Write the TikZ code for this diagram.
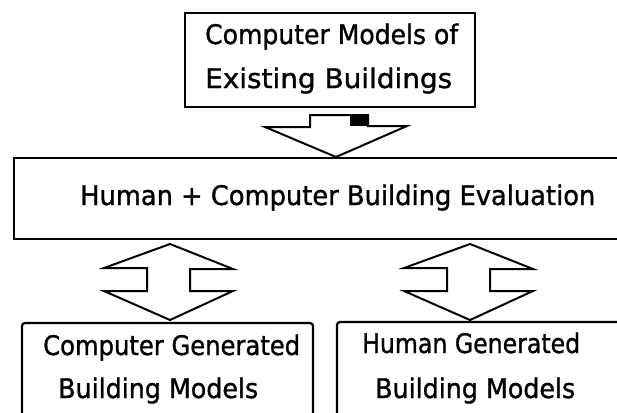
\documentclass[tikz,border=0pt]{standalone}
\usepackage{fontspec}
\usepackage{graphicx}
\setmainfont{DejaVu Sans}
\newfontfamily\lblfont[FakeBold=1.2]{DejaVu Sans}
% squeeze a label to a given width, keeping its height
\newcommand\fitw[2]{\resizebox{#1}{\height}{#2}}
\tikzset{
  frame/.style={line width=2.2pt, line join=miter},
  blockarrow/.style={line width=2pt, line join=miter, fill=white},
  lbl/.style={anchor=base west, inner sep=0pt, font=\lblfont\fontsize{27}{30}\selectfont}
}
\begin{document}
\begin{tikzpicture}[x=1pt, y=-1pt]
\useasboundingbox (0,0) rectangle (617,412);

% boxes
\draw[frame] (185,13) rectangle (475,107);
\draw[frame] (625,158) -- (14,158) -- (14,239) -- (625,239);
\draw[frame, rounded corners=3pt] (22,420) -- (22,323) -- (313,323) -- (313,420);
\draw[frame, rounded corners=3pt] (337,420) -- (337,322) -- (625,322);

% labels
\node[lbl] (exist1) at (205,44) {\fitw{253pt}{Computer Models of}};
\node[lbl] (exist2) at (205,88) {\fitw{247pt}{Existing Buildings}};
\node[lbl] (eval) at (80,205) {\fitw{515pt}{Human + Computer Building Evaluation}};
\node[lbl] (cgen1) at (43,355) {\fitw{257pt}{Computer Generated}};
\node[lbl] (cgen2) at (58,398) {\fitw{200pt}{Building Models}};
\node[lbl] (hgen1) at (362,353) {\fitw{218pt}{Human Generated}};
\node[lbl] (hgen2) at (375,398) {\fitw{200pt}{Building Models}};

% downward block arrow into the evaluation box
\draw[blockarrow] (310,115) -- (368,115) -- (368,126) -- (407,126)
  -- (336,157) -- (265,127) -- (310,127) -- cycle;
\fill (350,115) rectangle (368,126);

% two-way block arrows
\foreach \dx in {0,300}{
  \begin{scope}[xshift=\dx]
    \draw[blockarrow] (170,244) -- (233,269) -- (190,269) -- (190,291)
      -- (233,291) -- (170,320) -- (104,291) -- (147,291) -- (147,268)
      -- (104,268) -- cycle;
  \end{scope}
}
\end{tikzpicture}
\end{document}
